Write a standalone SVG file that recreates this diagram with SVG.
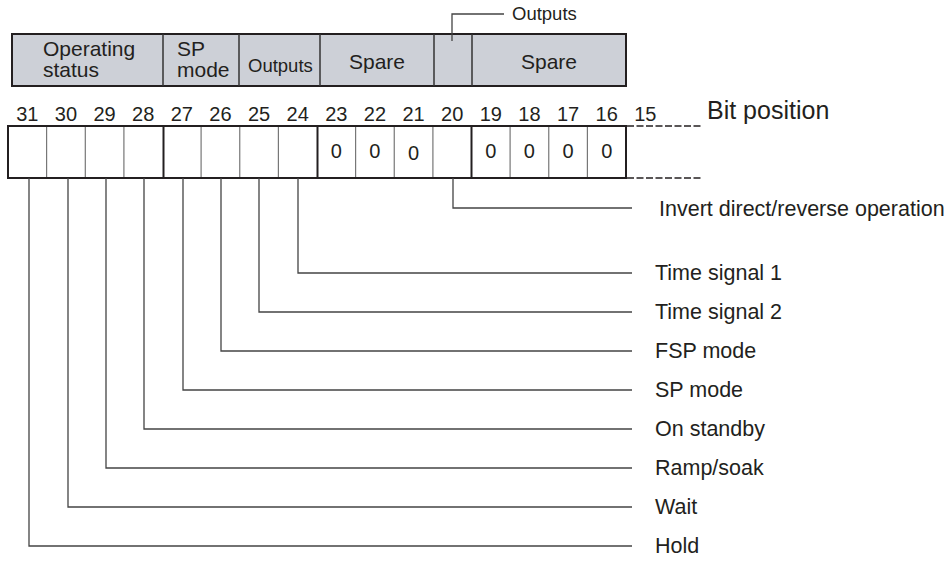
<svg xmlns="http://www.w3.org/2000/svg" width="952" height="562" viewBox="0 0 952 562">
<style>
text{font-family:"Liberation Sans",Arial,Helvetica,sans-serif;fill:#231f20}
.h{font-size:21px}
.hs{font-size:18.5px}
.num{font-size:20px;text-anchor:middle}
.zero{font-size:20px;text-anchor:middle}
.lbl{font-size:21.5px}
.thin{stroke:#777;stroke-width:1.2;fill:none}
.thick{stroke:#231f20;stroke-width:2;fill:none}
.conn{stroke:#444;stroke-width:1.3;fill:none}
.dash{stroke:#231f20;stroke-width:1.3;stroke-dasharray:7 2.5;fill:none}
</style>
<g id="header">
<rect x="12" y="34" width="614" height="52" fill="#cdd0d7" stroke="#231f20" stroke-width="2"/>
<g stroke="#333" stroke-width="1.5">
<line x1="163" y1="34" x2="163" y2="86"/>
<line x1="239" y1="34" x2="239" y2="86"/>
<line x1="320" y1="34" x2="320" y2="86"/>
<line x1="434" y1="34" x2="434" y2="86"/>
<line x1="472" y1="34" x2="472" y2="86"/>
</g>
<text class="h" x="43" y="56">Operating</text>
<text class="h" x="43" y="77">status</text>
<text class="h" x="177" y="56">SP</text>
<text class="h" x="177" y="77">mode</text>
<text class="hs" x="248" y="72">Outputs</text>
<text class="h" x="377" y="69" text-anchor="middle">Spare</text>
<text class="h" x="549" y="69" text-anchor="middle">Spare</text>
</g>
<g id="outputs-top">
<polyline class="conn" points="452,41 452,14 504,14"/>
<text class="hs" x="512" y="20">Outputs</text>
</g>
<g id="bit-numbers">
<text class="num" x="27.3" y="121">31</text>
<text class="num" x="65.9" y="121">30</text>
<text class="num" x="104.6" y="121">29</text>
<text class="num" x="143.2" y="121">28</text>
<text class="num" x="181.8" y="121">27</text>
<text class="num" x="220.4" y="121">26</text>
<text class="num" x="259.1" y="121">25</text>
<text class="num" x="297.7" y="121">24</text>
<text class="num" x="336.3" y="121">23</text>
<text class="num" x="374.9" y="121">22</text>
<text class="num" x="413.6" y="121">21</text>
<text class="num" x="452.2" y="121">20</text>
<text class="num" x="490.8" y="121">19</text>
<text class="num" x="529.4" y="121">18</text>
<text class="num" x="568.1" y="121">17</text>
<text class="num" x="606.7" y="121">16</text>
<text class="num" x="645.3" y="121">15</text>
<text x="707" y="119" style="font-size:25px">Bit position</text>
</g>
<g id="bit-row">
<g class="thin">
<line x1="46.6" y1="126" x2="46.6" y2="178"/>
<line x1="85.3" y1="126" x2="85.3" y2="178"/>
<line x1="123.9" y1="126" x2="123.9" y2="178"/>
<line x1="201.1" y1="126" x2="201.1" y2="178"/>
<line x1="239.75" y1="126" x2="239.75" y2="178"/>
<line x1="278.4" y1="126" x2="278.4" y2="178"/>
<line x1="355.6" y1="126" x2="355.6" y2="178"/>
<line x1="394.25" y1="126" x2="394.25" y2="178"/>
<line x1="432.9" y1="126" x2="432.9" y2="178"/>
<line x1="510.1" y1="126" x2="510.1" y2="178"/>
<line x1="548.75" y1="126" x2="548.75" y2="178"/>
<line x1="587.4" y1="126" x2="587.4" y2="178"/>
</g>
<rect x="8" y="126" width="618" height="52" class="thick"/>
<g class="thick">
<line x1="163.5" y1="126" x2="163.5" y2="178"/>
<line x1="317.5" y1="126" x2="317.5" y2="178"/>
<line x1="471.5" y1="126" x2="471.5" y2="178"/>
</g>
<line class="dash" x1="627" y1="126" x2="701" y2="126"/>
<line class="dash" x1="627" y1="178" x2="701" y2="178"/>
<text class="zero" x="336.3" y="158">0</text>
<text class="zero" x="374.9" y="158">0</text>
<text class="zero" x="413.6" y="160">0</text>
<text class="zero" x="490.8" y="158">0</text>
<text class="zero" x="529.4" y="158">0</text>
<text class="zero" x="568.1" y="158">0</text>
<text class="zero" x="606.7" y="158">0</text>
</g>
<g id="connectors">
<polyline class="conn" points="453,178 453,208 632,208"/>
<polyline class="conn" points="298,178 298,273 632,273"/>
<polyline class="conn" points="259,178 259,312 632,312"/>
<polyline class="conn" points="221,178 221,351 632,351"/>
<polyline class="conn" points="183,178 183,390 632,390"/>
<polyline class="conn" points="144,178 144,429 632,429"/>
<polyline class="conn" points="106,178 106,468 632,468"/>
<polyline class="conn" points="68,178 68,507 632,507"/>
<polyline class="conn" points="29,178 29,546 632,546"/>
</g>
<g id="labels">
<text class="lbl" x="659" y="216">Invert direct/reverse operation</text>
<text class="lbl" x="655" y="280">Time signal 1</text>
<text class="lbl" x="655" y="319">Time signal 2</text>
<text class="lbl" x="655" y="358">FSP mode</text>
<text class="lbl" x="655" y="397">SP mode</text>
<text class="lbl" x="655" y="436">On standby</text>
<text class="lbl" x="655" y="475">Ramp/soak</text>
<text class="lbl" x="655" y="514">Wait</text>
<text class="lbl" x="655" y="553">Hold</text>
</g>
</svg>
